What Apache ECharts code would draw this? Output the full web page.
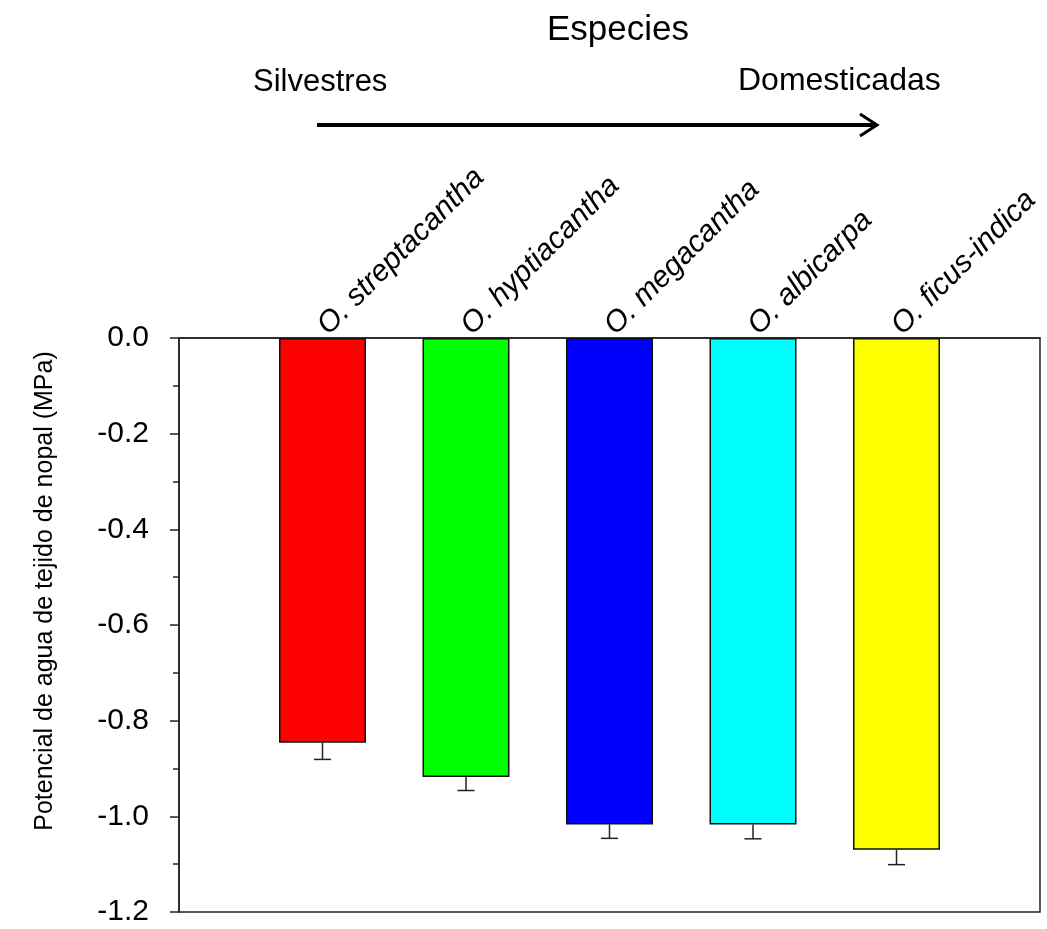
<!DOCTYPE html>
<html>
<head>
<meta charset="utf-8">
<script src="https://cdn.jsdelivr.net/npm/echarts@6/dist/echarts.min.js"></script>
<style>
  html, body { margin: 0; padding: 0; background: #fff; }
  #chart { width: 1047px; height: 929px; }
</style>
</head>
<body>
<div id="chart"></div>
<script>
// datos: potencial hidrico por especie
var species = ['O. streptacantha', 'O. hyptiacantha', 'O. megacantha', 'O. albicarpa', 'O. ficus-indica'];
var positions = [1, 2, 3, 4, 5];
var potential = [-0.846, -0.918, -1.017, -1.017, -1.070];
var stdErr = [0.035, 0.028, 0.029, 0.030, 0.031];
var colors = ['#ff0000', '#00ff00', '#0000ff', '#00ffff', '#ffff00'];
var yTicks = [0, -0.2, -0.4, -0.6, -0.8, -1.0, -1.2];

var chartDom = document.getElementById('chart');
var chart = echarts.init(chartDom);
var font = '"Liberation Sans", Arial, sans-serif';

var barData = positions.map(function (p, i) {
  return {
    value: [p, potential[i]],
    itemStyle: { color: colors[i] }
  };
});
var errData = positions.map(function (p, i) {
  return [p, potential[i], stdErr[i]];
});

var option = {
  animation: false,
  backgroundColor: '#fff',
  title: {
    text: 'Especies',
    left: 542,
    top: 8,
    textStyle: { fontFamily: font, fontSize: 35, fontWeight: 'normal', color: '#000' }
  },
  grid: {
    left: 179, top: 338, right: 7, bottom: 17,
    outerBoundsMode: 'none',
    containLabel: false,
    show: true, borderColor: '#222', borderWidth: 1.5, backgroundColor: 'transparent'
  },
  xAxis: {
    type: 'value',
    position: 'top',
    min: 0, max: 6, interval: 1,
    axisLine: { show: true, lineStyle: { color: '#222', width: 1.5 } },
    axisTick: { show: false },
    splitLine: { show: false },
    axisLabel: {
      rotate: 45,
      margin: 8,
      fontFamily: font,
      fontSize: 30,
      fontStyle: 'italic',
      color: '#000',
      formatter: function (v) {
        var idx = positions.indexOf(v);
        return idx >= 0 ? species[idx] : '';
      }
    }
  },
  yAxis: {
    type: 'value',
    min: yTicks[yTicks.length - 1], max: yTicks[0], interval: 0.2,
    axisLine: { show: true, lineStyle: { color: '#222', width: 1.5 } },
    axisTick: { show: true, length: 9, lineStyle: { color: '#222', width: 1.5 } },
    minorTick: { show: true, splitNumber: 2, length: 6, lineStyle: { color: '#222', width: 1.5 } },
    splitLine: { show: false },
    axisLabel: {
      margin: 30,
      fontFamily: font,
      fontSize: 30,
      color: '#000',
      formatter: function (v) { return Math.abs(v) < 1e-9 ? '0.0' : v.toFixed(1); }
    }
  },
  graphic: [
    {
      // titulo del eje y (desplazado hacia arriba como en el original)
      type: 'text', x: 45, y: 591, rotation: Math.PI / 2,
      style: {
        text: 'Potencial de agua de tejido de nopal (MPa)',
        font: '25px ' + font, fill: '#000',
        align: 'center', verticalAlign: 'middle'
      }
    },
    {
      type: 'text', left: 253, top: 67,
      style: { text: 'Silvestres', font: '31px ' + font, fill: '#000' }
    },
    {
      type: 'text', left: 738, top: 65,
      style: { text: 'Domesticadas', font: '32px ' + font, fill: '#000' }
    },
    {
      type: 'line',
      shape: { x1: 317, y1: 125, x2: 876, y2: 125 },
      style: { stroke: '#000', lineWidth: 4 }
    },
    {
      type: 'polyline',
      shape: { points: [[860, 114], [877, 125], [860, 136]] },
      style: { stroke: '#000', lineWidth: 3, fill: null }
    }
  ],
  series: [
    {
      type: 'bar',
      data: barData,
      barWidth: 87,
      itemStyle: { borderColor: '#111', borderWidth: 1.5 }
    },
    {
      type: 'custom',
      data: errData,
      z: 3,
      renderItem: function (params, api) {
        var x = api.value(0);
        var v = api.value(1);
        var e = api.value(2);
        var top = api.coord([x, v]);
        var bot = api.coord([x, v - e]);
        var half = 8.5;
        return {
          type: 'group',
          children: [
            { type: 'line', shape: { x1: top[0], y1: top[1], x2: bot[0], y2: bot[1] },
              style: { stroke: '#222', lineWidth: 1.5 } },
            { type: 'line', shape: { x1: bot[0] - half, y1: bot[1], x2: bot[0] + half, y2: bot[1] },
              style: { stroke: '#222', lineWidth: 1.5 } }
          ]
        };
      }
    }
  ]
};

option && chart.setOption(option);
</script>
</body>
</html>
